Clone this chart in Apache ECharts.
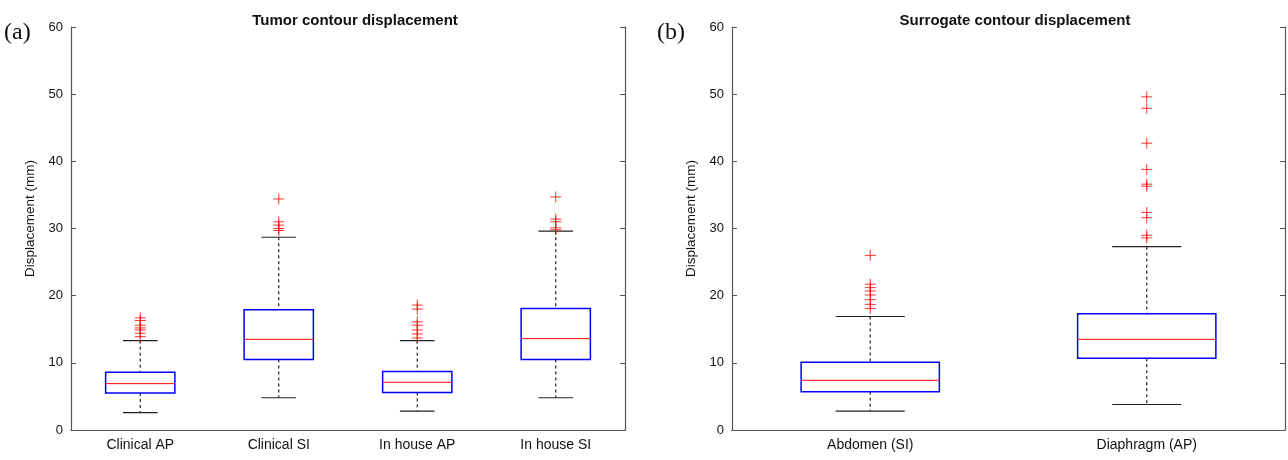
<!DOCTYPE html>
<html>
<head>
<meta charset="utf-8">
<script src="https://cdn.jsdelivr.net/npm/echarts@6/dist/echarts.min.js"></script>
<style>
  html, body { margin: 0; padding: 0; background: #fff; }
  #chart { width: 1288px; height: 460px; }
</style>
</head>
<body>
<div id="chart"></div>
<script>
// box stats: [lower whisker, Q1, median, Q3, upper whisker] in mm
const tumorCategories = ["Clinical AP", "Clinical SI", "In house AP", "In house SI"];
const tumorBoxes = [
    [2.6, 5.5, 6.9, 8.6, 13.3],
    [4.8, 10.5, 13.5, 17.9, 28.7],
    [2.8, 5.6, 7.1, 8.7, 13.3],
    [4.8, 10.5, 13.6, 18.1, 29.6]
];
const tumorOutliers = [
    [16.7, 16.3, 15.6, 15.2, 14.9, 14.4, 13.9],
    [34.4, 31.0, 30.5, 30.0, 29.7],
    [18.6, 18.0, 16.1, 15.6, 14.9, 14.3, 13.7],
    [34.7, 31.4, 31.0, 30.1, 29.8]
];

const surrogateCategories = ["Abdomen (SI)", "Diaphragm (AP)"];
const surrogateBoxes = [
    [2.8, 5.7, 7.4, 10.1, 16.9],
    [3.8, 10.7, 13.5, 17.3, 27.3]
];
const surrogateOutliers = [
    [26.0, 21.7, 21.2, 20.7, 20.1, 19.4, 18.7, 18.1],
    [49.6, 47.9, 42.7, 38.8, 36.6, 36.3, 32.4, 31.6, 29.0, 28.6]
];

const FONT = "Liberation Sans";
const AXIS_COLOR = "#555";

function renderBox(params, api) {
    const i = api.value(0);
    const lo = api.coord([i, api.value(1)]);
    const q1 = api.coord([i, api.value(2)]);
    const md = api.coord([i, api.value(3)]);
    const q3 = api.coord([i, api.value(4)]);
    const hi = api.coord([i, api.value(5)]);
    const band = api.size([1, 0])[0];
    const half = band * 0.25;
    const cap = band * 0.125;
    const cx = md[0];
    const dashed = { stroke: "#222", lineWidth: 1.2, lineDash: [3, 3] };
    const solid = { stroke: "#222", lineWidth: 1.2 };
    return {
        type: "group",
        children: [
            { type: "line", shape: { x1: cx, y1: hi[1], x2: cx, y2: q3[1] }, style: dashed },
            { type: "line", shape: { x1: cx, y1: q1[1], x2: cx, y2: lo[1] }, style: dashed },
            { type: "line", shape: { x1: cx - cap, y1: hi[1], x2: cx + cap, y2: hi[1] }, style: solid },
            { type: "line", shape: { x1: cx - cap, y1: lo[1], x2: cx + cap, y2: lo[1] }, style: solid },
            {
                type: "rect",
                shape: { x: cx - half, y: q3[1], width: half * 2, height: q1[1] - q3[1] },
                style: { fill: "none", stroke: "#0000ff", lineWidth: 1.5 }
            },
            { type: "line", shape: { x1: cx - half, y1: md[1], x2: cx + half, y2: md[1] }, style: { stroke: "#ff0000", lineWidth: 1 } }
        ]
    };
}

function boxData(boxes) {
    return boxes.map((b, i) => [i].concat(b));
}

function outlierData(outliers) {
    const pts = [];
    outliers.forEach((vals, i) => vals.forEach((v) => pts.push([i, v])));
    return pts;
}

function xAxes(grid, cats) {
    return [
        {
            type: "category", gridIndex: grid, data: cats, position: "bottom",
            axisLine: { lineStyle: { color: AXIS_COLOR, width: 1.2 } },
            axisTick: { inside: true, alignWithLabel: true, length: 5, lineStyle: { color: AXIS_COLOR } },
            axisLabel: { color: "#111", fontFamily: FONT, fontSize: 14, margin: 8 },
            splitLine: { show: false }
        },
        {
            type: "category", gridIndex: grid, data: cats, position: "top",
            axisLine: { lineStyle: { color: AXIS_COLOR, width: 1.2 } },
            axisTick: { inside: true, alignWithLabel: true, length: 5, lineStyle: { color: AXIS_COLOR } },
            axisLabel: { show: false },
            splitLine: { show: false }
        }
    ];
}

function yAxes(grid, withName) {
    return [
        {
            type: "value", gridIndex: grid, position: "left", min: 0, max: 60, interval: 10,
            name: withName ? "Displacement (mm)" : "",
            nameLocation: "middle", nameGap: 34,
            nameTextStyle: { color: "#111", fontFamily: FONT, fontSize: 13.5, padding: [0, 0, 0, 20] },
            axisLine: { show: true, lineStyle: { color: AXIS_COLOR, width: 1.2 } },
            axisTick: { show: true, inside: true, length: 5, lineStyle: { color: AXIS_COLOR } },
            axisLabel: { color: "#111", fontFamily: FONT, fontSize: 13, margin: 8 },
            splitLine: { show: false }
        },
        {
            type: "value", gridIndex: grid, position: "right", min: 0, max: 60, interval: 10,
            axisLine: { show: true, lineStyle: { color: AXIS_COLOR, width: 1.2 } },
            axisTick: { show: true, inside: true, length: 5, lineStyle: { color: AXIS_COLOR } },
            axisLabel: { show: false },
            splitLine: { show: false }
        }
    ];
}

const plusSymbol = "path://M5,0L5,10M0,5L10,5";

function panelSeries(axisIndex, boxes, outliers) {
    return [
        {
            type: "custom", xAxisIndex: axisIndex, yAxisIndex: axisIndex,
            renderItem: renderBox,
            encode: { x: 0, y: [1, 2, 3, 4, 5] },
            data: boxData(boxes),
            silent: true
        },
        {
            type: "scatter", xAxisIndex: axisIndex, yAxisIndex: axisIndex,
            symbol: plusSymbol, symbolSize: 11,
            itemStyle: { color: "rgba(0,0,0,0)", borderColor: "#ff0000", borderWidth: 1 },
            data: outlierData(outliers),
            z: 5, silent: true
        }
    ];
}

const chart = echarts.init(document.getElementById("chart"));
chart.setOption({
    animation: false,
    backgroundColor: "#fff",
    title: [
        {
            text: "Tumor contour displacement", left: 350, top: 8, textAlign: "center",
            textStyle: { fontFamily: FONT, fontSize: 15, fontWeight: "bold", color: "#111" }
        },
        {
            text: "Surrogate contour displacement", left: 1010, top: 8, textAlign: "center",
            textStyle: { fontFamily: FONT, fontSize: 15, fontWeight: "bold", color: "#111" }
        }
    ],
    graphic: [
        { type: "text", left: 4, top: 21, style: { text: "(a)", font: "24px 'Liberation Serif'", fill: "#111" } },
        { type: "text", left: 657, top: 21, style: { text: "(b)", font: "24px 'Liberation Serif'", fill: "#111" } }
    ],
    grid: [
        { left: 71, right: 663, top: 27, bottom: 30 },
        { left: 732, right: 3, top: 27, bottom: 30 }
    ],
    xAxis: xAxes(0, tumorCategories).concat(xAxes(1, surrogateCategories)),
    yAxis: yAxes(0, true).concat(yAxes(1, true)),
    series: panelSeries(0, tumorBoxes, tumorOutliers).concat(panelSeries(2, surrogateBoxes, surrogateOutliers))
});
</script>
</body>
</html>
